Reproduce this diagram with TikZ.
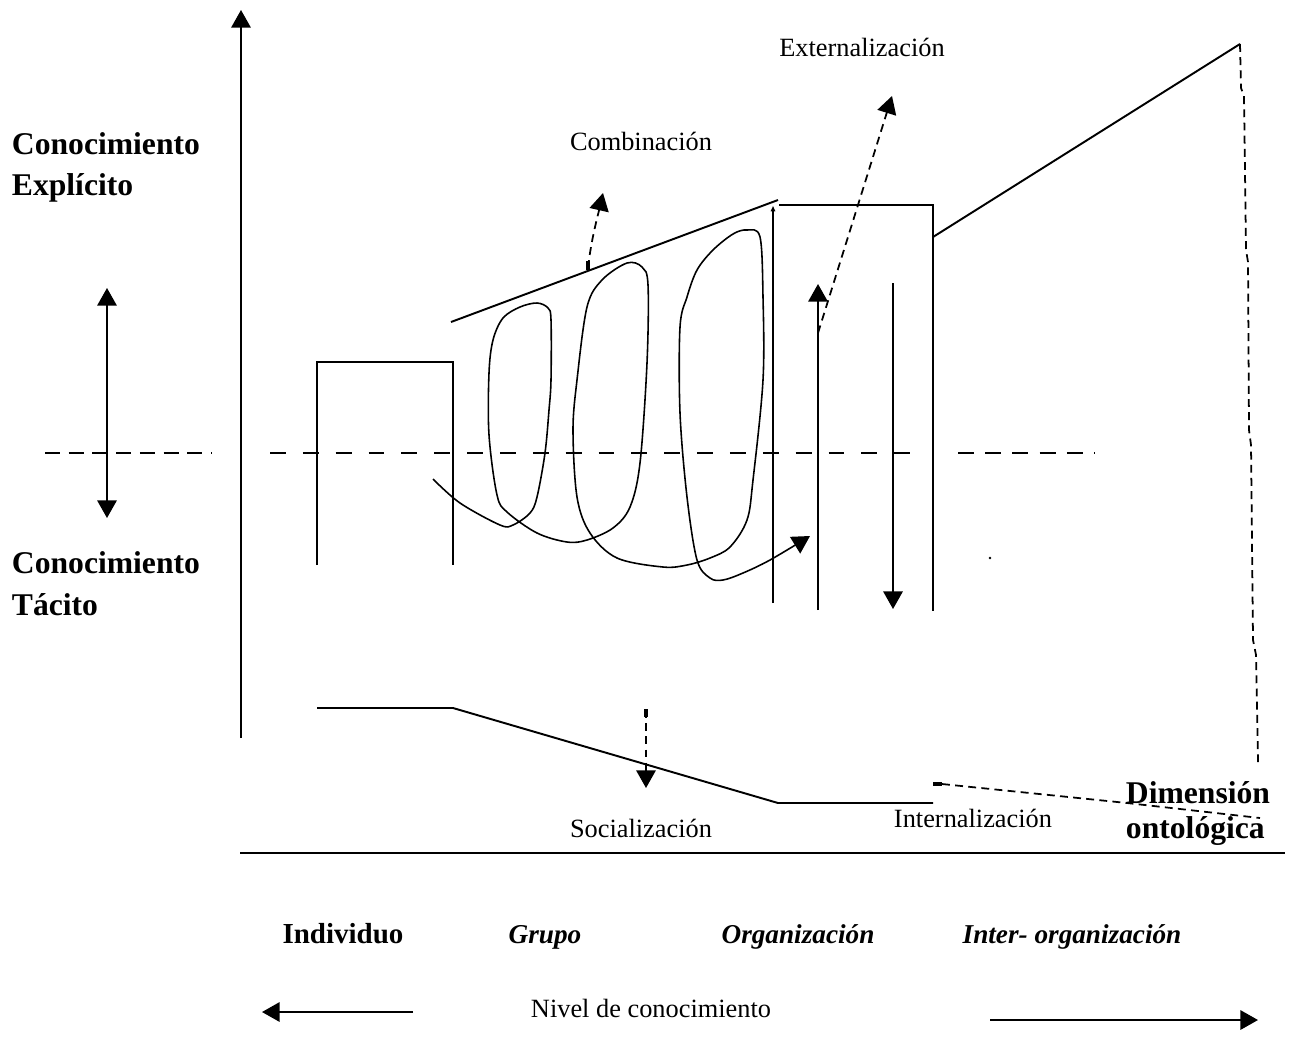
\documentclass[tikz,border=0pt]{standalone}
\usepackage{fontspec}
\setmainfont{Liberation Serif}
\usetikzlibrary{arrows.meta}
\begin{document}
\begin{tikzpicture}[x=0.02cm,y=-0.02cm,
  line width=1.1pt, line join=miter,
  tip/.style={-{Triangle[length=10pt,width=11pt]}},
  twotip/.style={{Triangle[length=10pt,width=11pt]}-{Triangle[length=10pt,width=11pt]}},
  lbl/.style={inner sep=0pt, anchor=base, font=\fontsize{15}{18}\selectfont},
  biglbl/.style={inner sep=0pt, anchor=base west, font=\bfseries\fontsize{18}{22}\selectfont},
  level/.style={inner sep=0pt, anchor=base, font=\bfseries\itshape\fontsize{15.5}{18}\selectfont},
  dsh/.style={dash pattern=on 4.5pt off 3pt},
  spiral/.style={line width=0.9pt}]
\useasboundingbox (0,0) rectangle (1294,1059);

% --- axes -------------------------------------------------------------
\coordinate (axisB) at (241,738);
\coordinate (axisT) at (241,10);
\draw[tip] (axisB) -- (axisT);
\coordinate (baseL) at (240,853);
\coordinate (baseR) at (1285,853);
\draw (baseL) -- (baseR);

% explicit / tacit double arrow
\coordinate (dblT) at (107,288);
\coordinate (dblB) at (107,518);
\draw[twotip] (dblB) -- (dblT);

% dashed divide between explicit and tacit
\draw[line width=1pt, dash pattern=on 8.5pt off 5pt] (45,453) -- (212,453);
\draw[line width=1pt, dash pattern=on 9pt off 9.7pt] (270,453) -- (915,453);
\draw[line width=1pt, dash pattern=on 9pt off 6.5pt] (958,453) -- (1095,453);

% --- level boxes ----------------------------------------------------------
\draw (317,565) -- (317,362) -- (453,362) -- (453,565);
\draw (451,322) -- (778,200);
\coordinate (orgLB) at (773,603);
\coordinate (orgLT) at (773,206);
\draw[-{Triangle[length=3pt,width=2.5pt]}] (orgLB) -- (orgLT);
\draw (779,205) -- (933,205) -- (933,611);
\coordinate (peak) at (1240,44);
\draw (933,237) -- (peak);
\draw[line width=1pt, dsh] (peak) -- (1241,88) -- (1244,96) -- (1246,250) -- (1248,262)
  -- (1249,430) -- (1251,445) -- (1253,640) -- (1256,655) -- (1258,762);

% lower profile
\draw (317,708) -- (453,708) -- (778,803) -- (933,803);

% --- vertical arrows in the organisation box --------------------------------
\coordinate (upB) at (818,610);
\coordinate (upT) at (818,284);
\draw[tip] (upB) -- (upT);
\coordinate (dnT) at (893,283);
\coordinate (dnB) at (893,609);
\draw[tip] (dnT) -- (dnB);

% --- dashed process arrows ------------------------------------------------
\coordinate (extS) at (818,333);
\coordinate (extE) at (892,96);
\draw[line width=1pt, dsh, tip] (extS) -- (extE);

\coordinate (comS) at (588,268);
\coordinate (comE) at (603,193);
\draw[line width=2pt] (588,261) -- (588,270);
\draw[line width=1pt, dsh, tip] (comS) .. controls (591,240) and (598,215) .. (comE);

\coordinate (socS) at (646,710);
\coordinate (socE) at (646,788);
\draw[line width=2pt] (646,709) -- (646,717);
\draw[line width=1pt, dsh, tip] (socS) -- (socE);

\coordinate (intS) at (942,784);
\draw[line width=2pt] (933,784) -- (942,784);
\draw[line width=1pt, dsh] (intS) -- (1127,803) -- (1260,818);

% --- knowledge spiral ----------------------------------------------------
\draw[spiral, -{Triangle[length=10pt,width=11pt]}] plot[smooth, tension=0.55] coordinates {
  (433,479) (460,503) (500,525) (513,525) (530,513) (537,497) (545,453) (549,410)
  (551,380) (551,320) (548,308) (537,303) (520,307) (503,318) (493,340) (489,373)
  (489,435) (497,495) (507,512) (537,533) (567,542) (587,540) (613,528) (630,507)
  (640,463) (647,363) (648,285) (642,267) (627,263) (602,280) (587,307) (577,380)
  (573,430) (577,497) (590,533) (617,558) (663,567) (687,565) (710,558) (730,547)
  (747,520) (753,480) (763,380) (763,297) (760,237) (747,230) (733,234) (713,250)
  (697,270) (687,297) (680,327) (680,413) (687,497) (697,560) (710,578) (723,580)
  (743,573) (770,560) (810,536)};

\fill (990,558) circle (1.3);

% --- labels ----------------------------------------------------------------
\node[lbl] (ext) at (862,56) {Externalización};
\node[lbl] (com) at (641,150) {Combinación};
\node[lbl] (soc) at (641,837) {Socialización};
\node[lbl] (int) at (973,827) {Internalización};

\node[biglbl] (expA) at (11,154) {Conocimiento};
\node[biglbl] (expB) at (11,195) {Explícito};
\node[biglbl] (tacA) at (11,573) {Conocimiento};
\node[biglbl] (tacB) at (11,615) {Tácito};

\node[biglbl] (dimA) at (1125,803) {Dimensión};
\node[biglbl] (dimB) at (1125,838) {ontológica};

\node[inner sep=0pt, anchor=base, font=\bfseries\fontsize{16.5}{20}\selectfont] (ind) at (343,943) {Individuo};
\node[level] (grp) at (545,943) {Grupo};
\node[level] (org) at (798,943) {Organización};
\node[level] (inter) at (1072,943) {Inter- organización};

\node[lbl] (nivel) at (651,1017) {Nivel de conocimiento};
\coordinate (nlS) at (413,1012);
\coordinate (nlE) at (262,1012);
\draw[tip] (nlS) -- (nlE);
\coordinate (nrS) at (990,1020);
\coordinate (nrE) at (1258,1020);
\draw[tip] (nrS) -- (nrE);
\end{tikzpicture}
\end{document}
